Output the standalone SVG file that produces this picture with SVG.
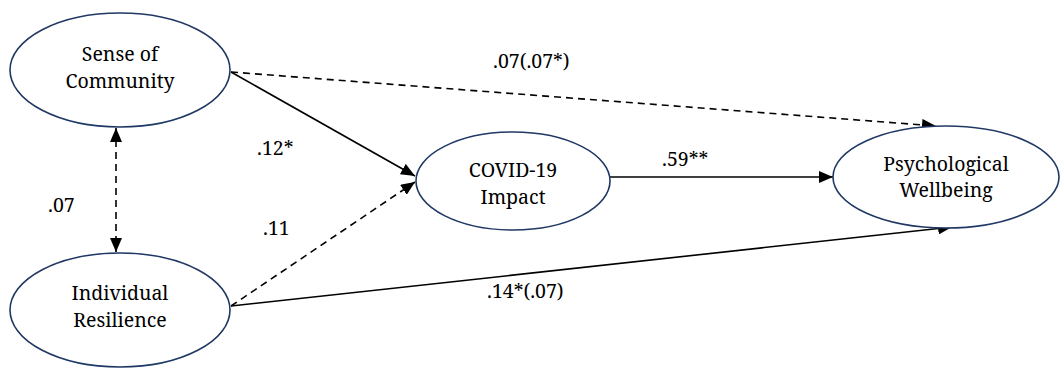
<svg xmlns="http://www.w3.org/2000/svg" width="1062" height="368" viewBox="0 0 1062 368">
<style>
.node ellipse{fill:#fff;stroke:#203864;stroke-width:1.6}
.t{font-family:'Noto Serif','DejaVu Serif',serif;font-size:19.5px;fill:#000;text-anchor:middle}
.lbl{font-family:'Noto Serif','DejaVu Serif',serif;font-size:19.5px;fill:#000}
.c{fill:none;stroke:#000;stroke-width:1.6}
.d{stroke-dasharray:7 5}
</style>
<defs>
<marker id="ah" markerUnits="userSpaceOnUse" markerWidth="14" markerHeight="12" refX="14" refY="6" orient="auto-start-reverse">
<path d="M0,0 L14,6 L0,12 Z" fill="#000"/>
</marker>
</defs>
<rect width="1062" height="368" fill="#fff"/>
<g id="connectors">
<line class="c" x1="231" y1="72" x2="415" y2="176" marker-end="url(#ah)"/>
<line class="c d" x1="231" y1="72" x2="936" y2="126" marker-end="url(#ah)"/>
<line class="c d" x1="116" y1="128" x2="116" y2="252" marker-start="url(#ah)" marker-end="url(#ah)"/>
<line class="c d" x1="231" y1="306" x2="415" y2="182" marker-end="url(#ah)"/>
<line class="c" x1="231" y1="306" x2="952" y2="227" marker-end="url(#ah)"/>
<line class="c" x1="610" y1="177" x2="833" y2="177" marker-end="url(#ah)"/>
</g>
<g id="node-soc" class="node">
<ellipse cx="120" cy="70" rx="110" ry="57"/>
<text class="t" x="120" y="61">Sense of</text>
<text class="t" x="120" y="88">Community</text>
</g>
<g id="node-ir" class="node">
<ellipse cx="120" cy="310" rx="110" ry="57"/>
<text class="t" x="120" y="300">Individual</text>
<text class="t" x="120" y="327">Resilience</text>
</g>
<g id="node-covid" class="node">
<ellipse cx="513" cy="181" rx="97" ry="49"/>
<text class="t" x="513" y="177">COVID-19</text>
<text class="t" x="513" y="204">Impact</text>
</g>
<g id="node-pw" class="node">
<ellipse cx="946" cy="177" rx="113" ry="51"/>
<text class="t" x="946" y="171">Psychological</text>
<text class="t" x="946" y="197">Wellbeing</text>
</g>
<g id="labels">
<text class="lbl" x="493" y="68">.07(.07*)</text>
<text class="lbl" x="257" y="155">.12*</text>
<text class="lbl" x="263" y="235">.11</text>
<text class="lbl" x="48" y="212">.07</text>
<text class="lbl" x="662" y="166">.59**</text>
<text class="lbl" x="487" y="298">.14*(.07)</text>
</g>
</svg>
